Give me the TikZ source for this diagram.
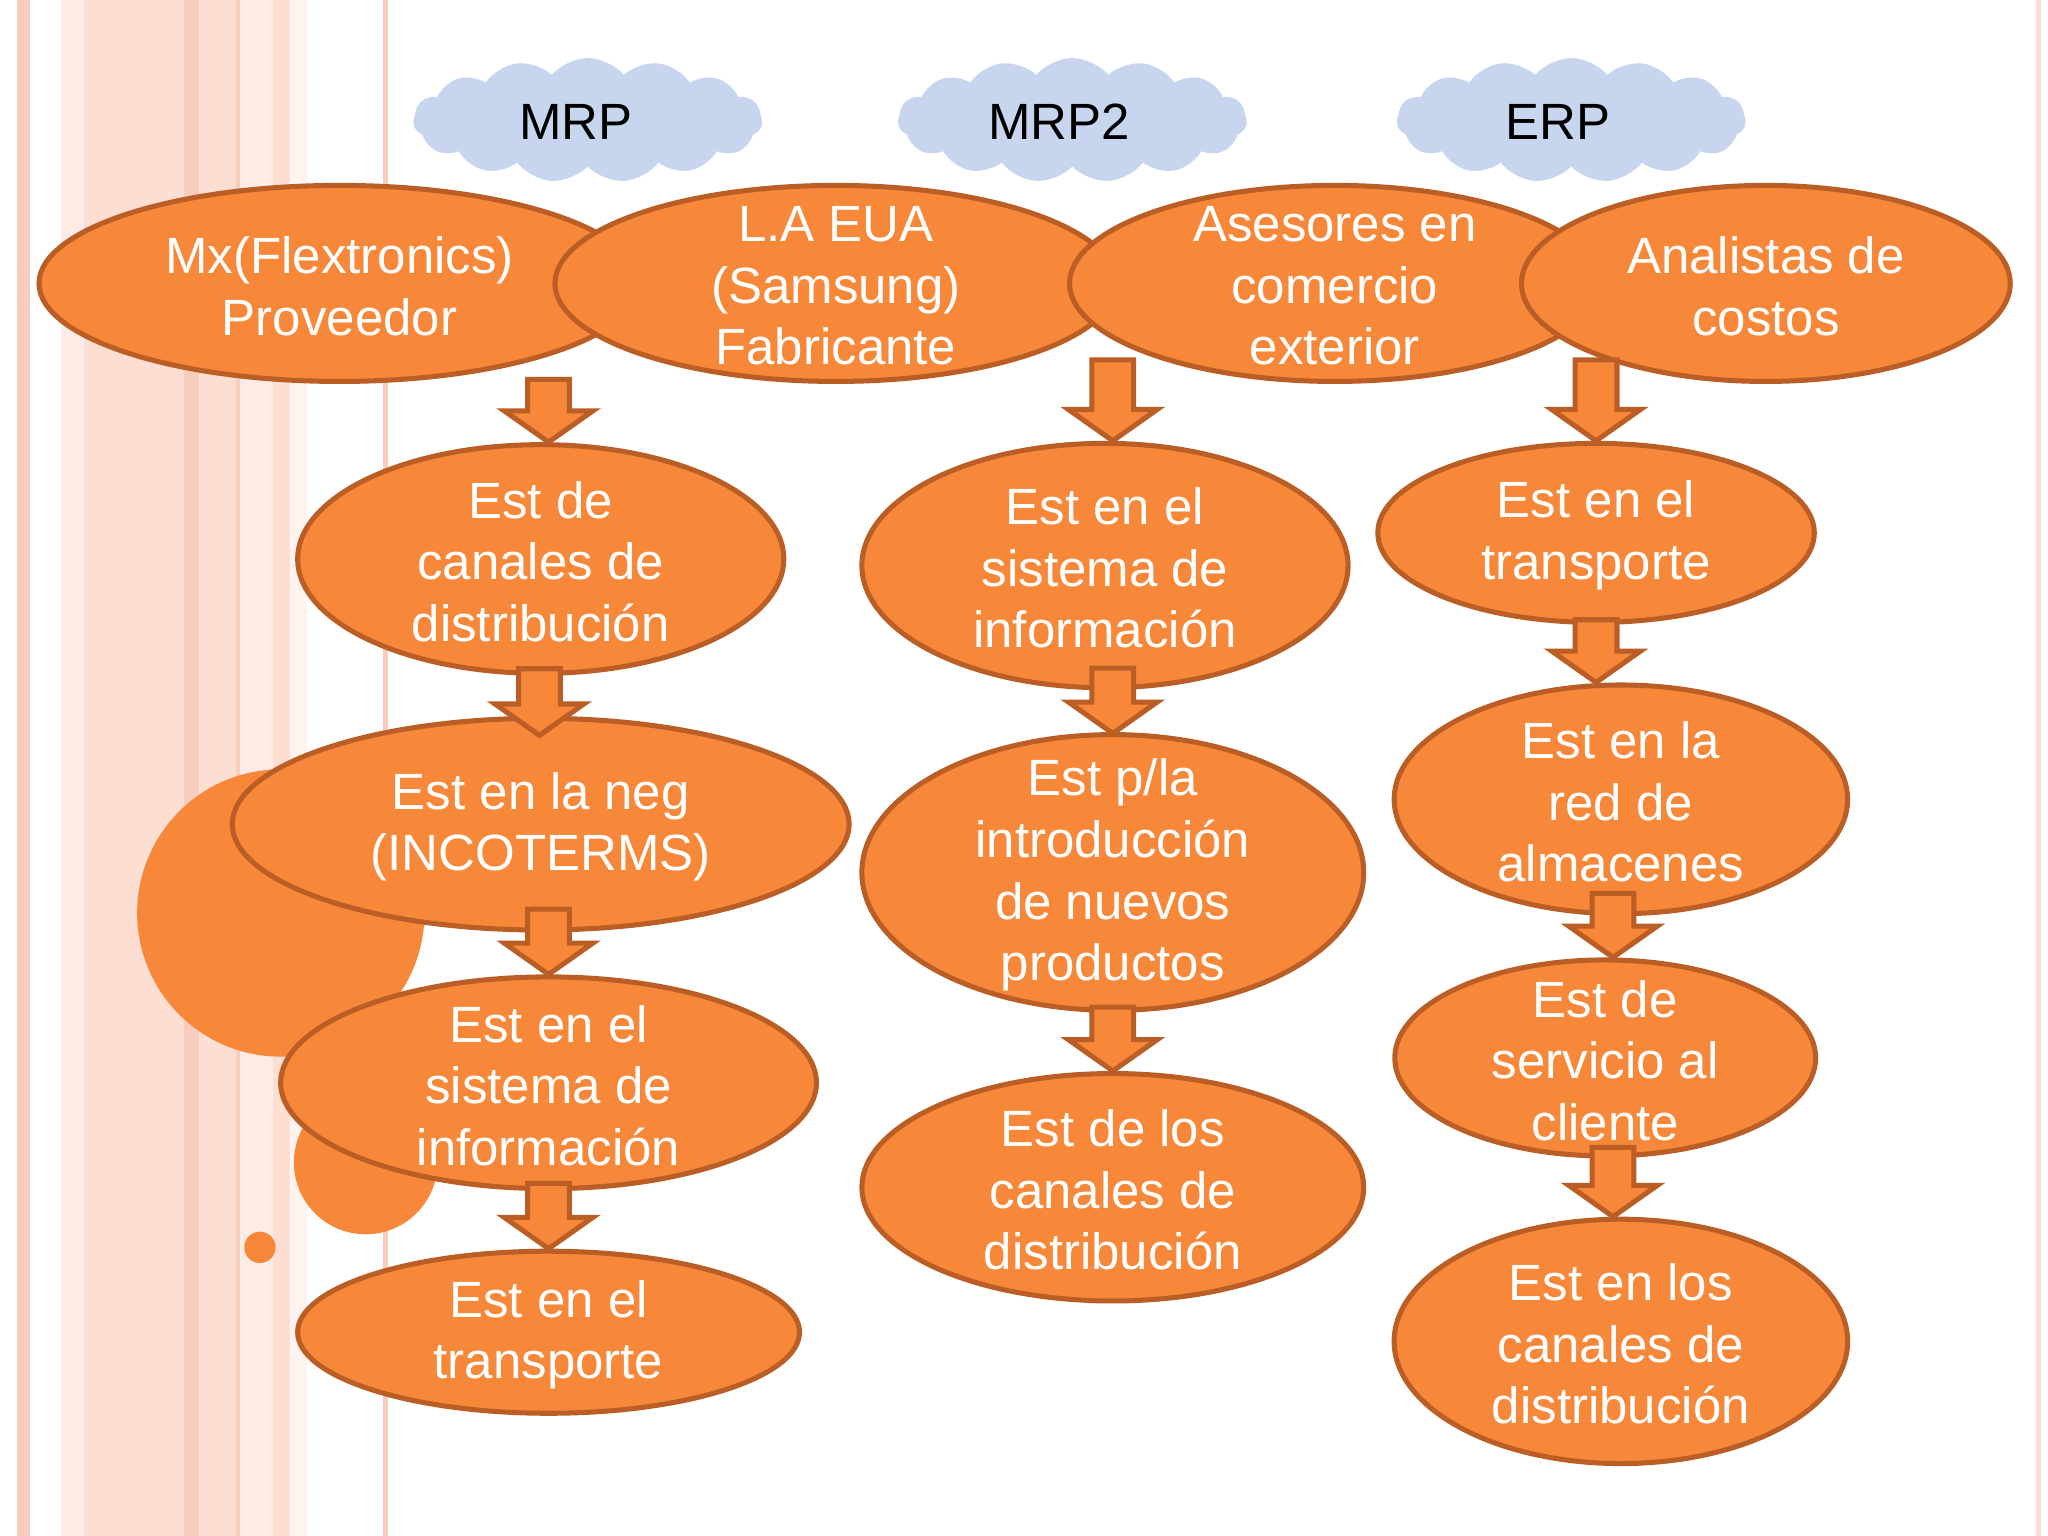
\documentclass[tikz,border=0pt]{standalone}
\usepackage{fontspec}
\setmainfont{Liberation Sans}
\usetikzlibrary{shapes.geometric,shapes.symbols,calc}
\definecolor{naranja}{RGB}{247,136,58}
\definecolor{bordenar}{RGB}{186,94,38}
\definecolor{azulnube}{RGB}{200,213,238}
\definecolor{rosaA}{RGB}{249,205,190}
\definecolor{rosaB}{RGB}{252,222,211}
\definecolor{rosaC}{RGB}{253,235,229}
\definecolor{rosaD}{RGB}{254,243,239}
\tikzset{
  est/.style={ellipse, draw=bordenar, fill=naranja, line width=1.1pt, inner sep=0pt},
  txt/.style={text=white, align=center, inner sep=0pt, yshift=-0.02cm, font=\fontsize{11.1}{13.4}\selectfont},
  nube/.style={cloud, cloud puffs=15, cloud puff arc=100, cloud ignores aspect, fill=azulnube, inner sep=0pt,
    minimum width=2.67cm, minimum height=0.95cm},
  nubetxt/.style={font=\fontsize{11.1}{13.4}\selectfont},
  flechaest/.style={draw=bordenar, fill=naranja, line width=1.1pt, line join=miter},
}
% #1 nodo destino, #2 dx, #3 dy, #4 largo
\newcommand{\flecha}[4]{%
  \draw[flechaest] ($(#1.north)+(#2,#3)$) -- ++(-34,-24) -- ++(18,0) -- ++(0,{24-#4})
    -- ++(32,0) -- ++(0,{#4-24}) -- ++(18,0) -- cycle;}
\begin{document}
\begin{tikzpicture}[x=0.01cm, y=-0.01cm]
\useasboundingbox (0,0) rectangle (1568,1176);
\fill[white] (0,0) rectangle (1568,1176);
\foreach \a/\b/\c in {13/23/rosaA, 47/64/rosaC, 64/141/rosaB, 141/152/rosaA, 152/181/rosaB,
  181/184/rosaA, 184/209/rosaC, 209/222/rosaB, 222/235/rosaD, 293/297/rosaA, 1559/1563/rosaB}
  \fill[\c] (\a,0) rectangle (\b,1176);
\fill[naranja] (215,699) circle (110);
\fill[naranja] (280,890) circle (55);
\fill[naranja] (199,955) circle (12);

\node[nube] (mrp) at (450,92) {};
\node[nubetxt] (t-mrp) at (441,93) {MRP};
\node[nube] (mrp2) at (821,92) {};
\node[nubetxt] (t-mrp2) at (811,93) {MRP2};
\node[nube] (erp) at (1203,92) {};
\node[nubetxt] (t-erp) at (1193,93) {ERP};

\node[est, minimum width=4.6cm, minimum height=1.5cm] (prov) at (260,217) {};
\node[txt] (t-prov) at (prov) {Mx(Flextronics)\\Proveedor};
\node[est, minimum width=4.3cm, minimum height=1.5cm] (fab) at (640,217) {};
\node[txt] (t-fab) at (fab) {L.A EUA\\(Samsung)\\Fabricante};
\node[est, minimum width=4.06cm, minimum height=1.5cm] (ase) at (1022,217) {};
\node[txt] (t-ase) at (ase) {Asesores en\\comercio\\exterior};
\node[est, minimum width=3.74cm, minimum height=1.5cm] (ana) at (1352,217) {};
\node[txt] (t-ana) at (ana) {Analistas de\\costos};

\node[est, minimum width=3.72cm, minimum height=1.75cm] (c1a) at (414,428) {};
\node[txt] (t-c1a) at (c1a) {Est de\\canales de\\distribución};
\node[est, minimum width=4.72cm, minimum height=1.62cm] (c1b) at (414,631) {};
\node[txt] (t-c1b) at (c1b) {Est en la neg\\(INCOTERMS)};
\node[est, minimum width=4.1cm, minimum height=1.62cm] (c1c) at (420,829) {};
\node[txt] (t-c1c) at (c1c) {Est en el\\sistema de\\información};
\node[est, minimum width=3.84cm, minimum height=1.24cm] (c1d) at (420,1020) {};
\node[txt] (t-c1d) at (c1d) {Est en el\\transporte};

\node[est, minimum width=3.72cm, minimum height=1.87cm] (c2a) at (846,433) {};
\node[txt] (t-c2a) at (c2a) {Est en el\\sistema de\\información};
\node[est, minimum width=3.84cm, minimum height=2.11cm] (c2b) at (852,668) {};
\node[txt] (t-c2b) at (c2b) {Est p/la\\introducción\\de nuevos\\productos};
\node[est, minimum width=3.84cm, minimum height=1.74cm] (c2c) at (852,909) {};
\node[txt] (t-c2c) at (c2c) {Est de los\\canales de\\distribución};

\node[est, minimum width=3.34cm, minimum height=1.37cm] (c3a) at (1222,408) {};
\node[txt] (t-c3a) at (c3a) {Est en el\\transporte};
\node[est, minimum width=3.47cm, minimum height=1.75cm] (c3b) at (1241,612) {};
\node[txt] (t-c3b) at (c3b) {Est en la\\red de\\almacenes};
\node[est, minimum width=3.22cm, minimum height=1.5cm] (c3c) at (1229,810) {};
\node[txt] (t-c3c) at (c3c) {Est de\\servicio al\\cliente};
\node[est, minimum width=3.47cm, minimum height=1.87cm] (c3d) at (1241,1027) {};
\node[txt] (t-c3d) at (c3d) {Est en los\\canales de\\distribución};

\flecha{c1a}{6}{0}{48}
\flecha{c1b}{-1}{15}{51}
\flecha{c1c}{0}{0}{50}
\flecha{c1d}{0}{0}{50}
\flecha{c2a}{6}{0}{62}
\flecha{c2b}{0}{1}{50}
\flecha{c2c}{0}{0}{49}
\flecha{c3a}{0}{0}{62}
\flecha{c3b}{-19}{0}{48}
\flecha{c3c}{6}{0}{49}
\flecha{c3d}{-6}{0}{53}
\end{tikzpicture}
\end{document}
